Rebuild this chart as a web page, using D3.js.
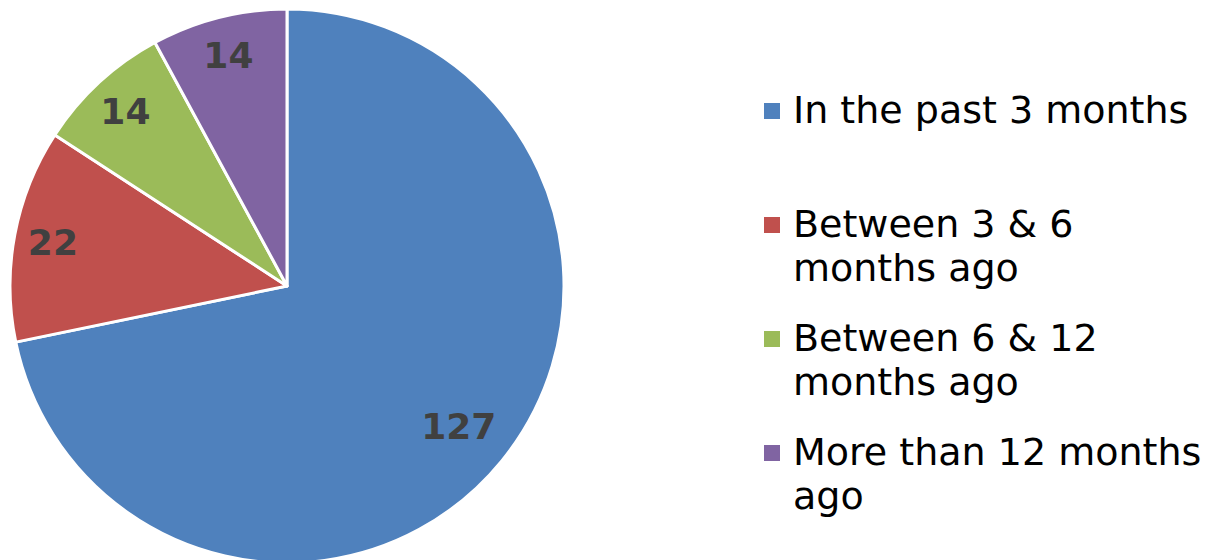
<!DOCTYPE html>
<html><head><meta charset="utf-8">
<script src="https://cdn.jsdelivr.net/npm/d3@7"></script>
<style>body{margin:0;background:#fff}svg{display:block}</style>
</head><body>
<svg id="c" width="1214" height="560"></svg>
<script>
const categories = ["In the past 3 months", "Between 3 & 6 months ago", "Between 6 & 12 months ago", "More than 12 months ago"];
const legendLines = [["In the past 3 months"], ["Between 3 & 6", "months ago"], ["Between 6 & 12", "months ago"], ["More than 12 months", "ago"]];
const values = [127, 22, 14, 14];
const colors = ["#4F81BD", "#C0504D", "#9BBB59", "#8064A2"];

const svg = d3.select("#c");
const cx = 287, cy = 286, r = 277;
const total = d3.sum(values);
const pie = d3.pie().sort(null).value(d => d)(values);
const arc = d3.arc().innerRadius(0).outerRadius(r);
const labelPos = d => {
  const f = d.data / total > 0.5 ? 0.80 : 0.86;
  return d3.arc().innerRadius(r * f).outerRadius(r * f).centroid(d);
};
const g = svg.append("g").attr("transform", `translate(${cx},${cy})`);
g.selectAll("path").data(pie).join("path")
  .attr("d", arc).attr("fill", (d, i) => colors[i])
  .attr("stroke", "#fff").attr("stroke-width", 3).attr("stroke-linejoin", "round");
g.selectAll("text").data(pie).join("text")
  .attr("transform", d => `translate(${labelPos(d)})`)
  .attr("text-anchor", "middle").attr("dy", "0.36em")
  .attr("font-family", "DejaVu Sans, Verdana, sans-serif").attr("font-weight", "bold")
  .attr("font-size", 36).attr("fill", "#404040")
  .text(d => d.data);

const y = d3.scaleBand().domain(categories).range([66, 522]);
const lg = svg.append("g");
categories.forEach((c, i) => {
  const base = y(c) + 57;
  lg.append("rect").attr("x", 764).attr("y", base - 20).attr("width", 16).attr("height", 16).attr("fill", colors[i]);
  const t = lg.append("text").attr("x", 793).attr("y", base)
    .attr("font-family", "DejaVu Sans, Verdana, sans-serif").attr("font-size", 38).attr("fill", "#000");
  legendLines[i].forEach((l, j) => t.append("tspan").attr("x", 793).attr("dy", j === 0 ? 0 : 44).text(l));
});
</script>
</body></html>
